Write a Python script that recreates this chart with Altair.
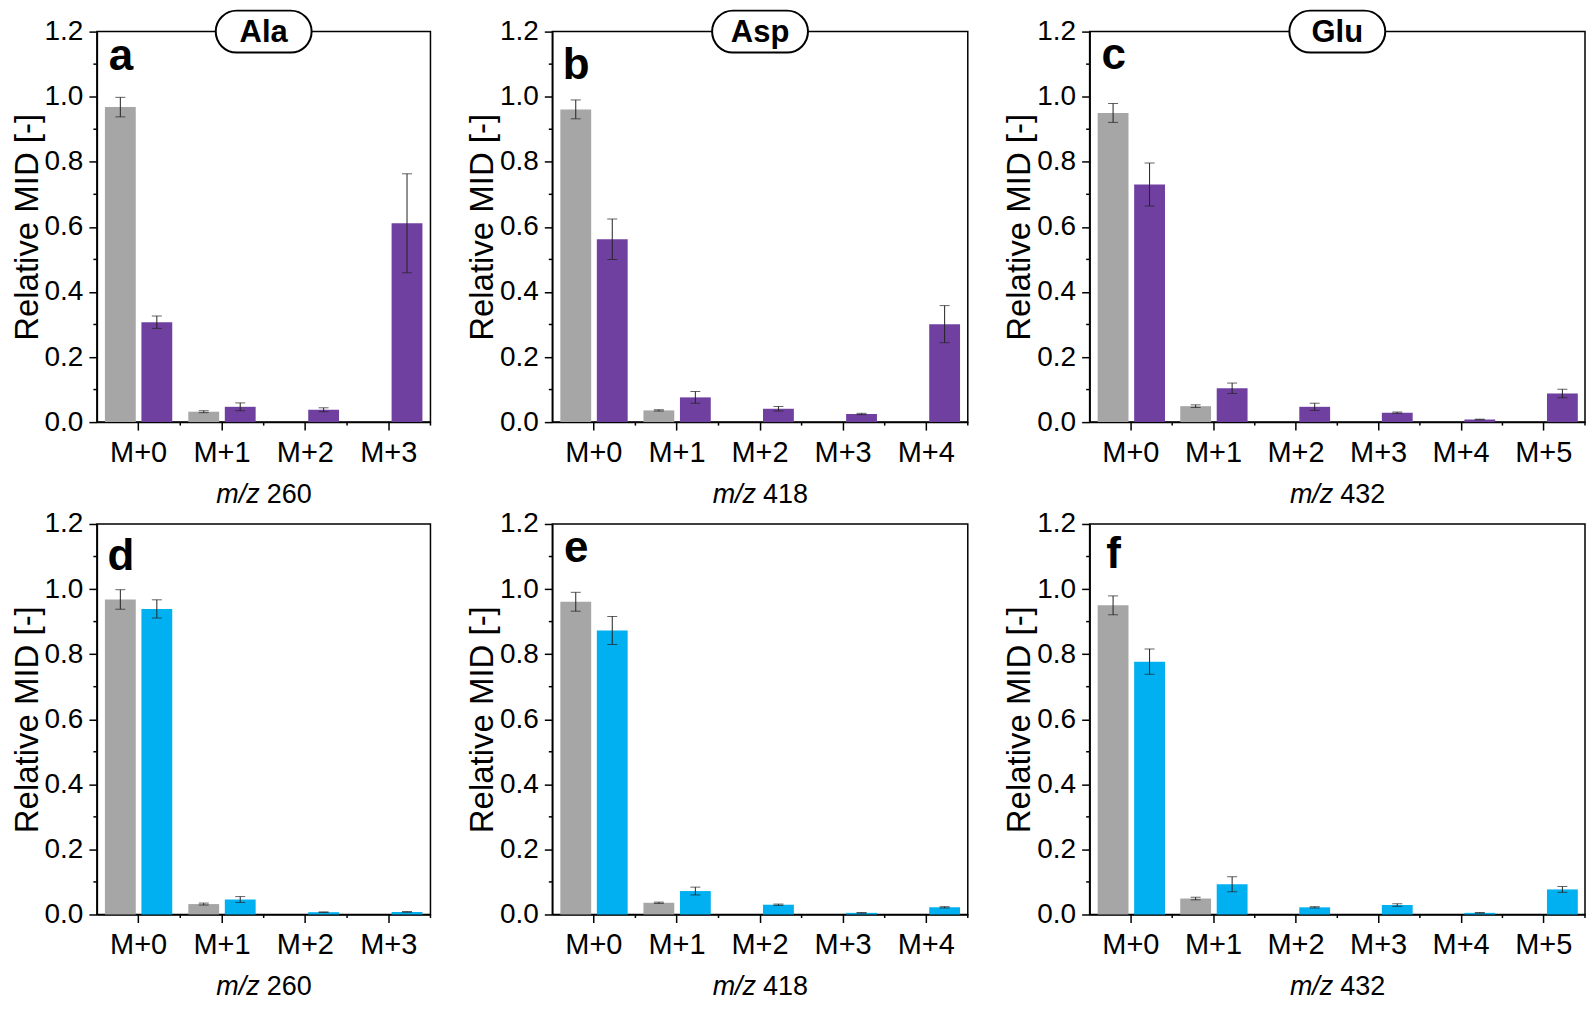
import altair as alt
import pandas as pd

# ---------------- data ----------------
metabolites = ["Ala", "Asp", "Glu"]
mz_values = ["260", "418", "432"]
isotopologues = {
    "Ala": ["M+0", "M+1", "M+2", "M+3"],
    "Asp": ["M+0", "M+1", "M+2", "M+3", "M+4"],
    "Glu": ["M+0", "M+1", "M+2", "M+3", "M+4", "M+5"],
}

# unlabeled reference (grey), only M+0 and M+1 present
ctrl_ala = [0.968, 0.032]
ctrl_ala_sd = [0.030, 0.003]
ctrl_asp = [0.961, 0.036]
ctrl_asp_sd = [0.029, 0.002]
ctrl_glu = [0.950, 0.049]
ctrl_glu_sd = [0.029, 0.004]

# top row tracer (purple)
top_ala = [0.307, 0.047, 0.038, 0.611]
top_ala_sd = [0.019, 0.012, 0.006, 0.152]
top_asp = [0.562, 0.076, 0.041, 0.025, 0.301]
top_asp_sd = [0.062, 0.018, 0.007, 0.002, 0.057]
top_glu = [0.730, 0.104, 0.047, 0.029, 0.008, 0.088]
top_glu_sd = [0.066, 0.016, 0.011, 0.002, 0.001, 0.013]

# bottom row tracer (blue)
bot_ala = [0.939, 0.046, 0.007, 0.008]
bot_ala_sd = [0.028, 0.009, 0.001, 0.001]
bot_asp = [0.873, 0.072, 0.030, 0.005, 0.022]
bot_asp_sd = [0.043, 0.012, 0.002, 0.001, 0.002]
bot_glu = [0.777, 0.093, 0.022, 0.029, 0.005, 0.077]
bot_glu_sd = [0.039, 0.023, 0.002, 0.004, 0.001, 0.009]

y_major = [0.0, 0.2, 0.4, 0.6, 0.8, 1.0, 1.2]
y_minor = [0.1, 0.3, 0.5, 0.7, 0.9, 1.1]
panel_letters = ["a", "b", "c", "d", "e", "f"]

ctrl = {"Ala": (ctrl_ala, ctrl_ala_sd), "Asp": (ctrl_asp, ctrl_asp_sd), "Glu": (ctrl_glu, ctrl_glu_sd)}
top = {"Ala": (top_ala, top_ala_sd), "Asp": (top_asp, top_asp_sd), "Glu": (top_glu, top_glu_sd)}
bot = {"Ala": (bot_ala, bot_ala_sd), "Asp": (bot_asp, bot_asp_sd), "Glu": (bot_glu, bot_glu_sd)}

# ---------------- style ----------------
FONT = "Liberation Sans"
COLORS = {"unlabeled": "#a6a6a6", "tracer_top": "#7040a0", "tracer_bottom": "#00b0f0"}
H = 391
WIDTHS = {"Ala": 334, "Asp": 416, "Glu": 496}
LETTER_BASELINE = {"a": 38, "b": 47, "c": 37, "d": 46, "e": 38, "f": 44}
YTITLE = "Relative MID [-]"


def panel(met, mz, row, letter):
    cats = isotopologues[met]
    w = WIDTHS[met]
    tracer_name = "tracer_top" if row == 0 else "tracer_bottom"
    tr_vals, tr_sd = (top if row == 0 else bot)[met]
    c_vals, c_sd = ctrl[met]
    rows = []
    for i, cat in enumerate(cats):
        if i < len(c_vals):
            rows.append({"cat": cat, "slot": "1", "series": "unlabeled",
                         "v": c_vals[i], "lo": c_vals[i] - c_sd[i], "hi": c_vals[i] + c_sd[i]})
        rows.append({"cat": cat, "slot": "2", "series": tracer_name,
                     "v": tr_vals[i], "lo": tr_vals[i] - tr_sd[i], "hi": tr_vals[i] + tr_sd[i]})
    df = pd.DataFrame(rows)

    xscale = alt.Scale(domain=cats, paddingInner=0, paddingOuter=0)
    yscale = alt.Scale(domain=[0, 1.2], nice=False, zero=True)
    offscale = alt.Scale(domain=["1", "2"], paddingInner=0.155, paddingOuter=0.22)

    base = alt.Chart(df)
    bars = base.mark_bar().encode(
        x=alt.X("cat:N", scale=xscale, sort=cats, title=None,
                axis=alt.Axis(labelAngle=0, labelFontSize=29, labelFont=FONT, labelColor="black",
                              tickSize=8, tickWidth=1.5, tickColor="black", labelPadding=8,
                              domainWidth=1.5, domainColor="black", grid=False, title=None)),
        xOffset=alt.XOffset("slot:N", scale=offscale),
        y=alt.Y("v:Q", scale=yscale, title=YTITLE,
                axis=alt.Axis(values=y_major, format=".1f", labelFontSize=28, labelFont=FONT,
                              labelColor="black", tickSize=8, tickWidth=1.5, tickColor="black",
                              labelPadding=6, domainWidth=1.5, domainColor="black", grid=False,
                              title=YTITLE, titleFontSize=33, titleFont=FONT,
                              titleFontWeight="normal", titleColor="black", titlePadding=0)),
        color=alt.Color("series:N", scale=alt.Scale(domain=list(COLORS.keys()),
                                                    range=list(COLORS.values())), legend=None),
    )
    err = base.mark_rule(color="#222222", strokeWidth=1).encode(
        x=alt.X("cat:N", scale=xscale, sort=cats, title=None),
        xOffset=alt.XOffset("slot:N", scale=offscale),
        y=alt.Y("lo:Q", scale=yscale, title=YTITLE),
        y2="hi:Q",
    )
    cap_hi = base.mark_tick(color="#222222", thickness=1, size=10, orient="horizontal").encode(
        x=alt.X("cat:N", scale=xscale, sort=cats, title=None),
        xOffset=alt.XOffset("slot:N", scale=offscale),
        y=alt.Y("hi:Q", scale=yscale, title=YTITLE),
    )
    cap_lo = base.mark_tick(color="#222222", thickness=1, size=10, orient="horizontal").encode(
        x=alt.X("cat:N", scale=xscale, sort=cats, title=None),
        xOffset=alt.XOffset("slot:N", scale=offscale),
        y=alt.Y("lo:Q", scale=yscale, title=YTITLE),
    )
    yminor = alt.Chart(pd.DataFrame({"v": y_minor})).mark_rule(color="black", strokeWidth=1.5).encode(
        y=alt.Y("v:Q", scale=yscale, title=YTITLE),
        x=alt.value(-3.5), x2=alt.value(0),
    )
    xminor = alt.Chart(pd.DataFrame({"cat": cats})).mark_rule(color="black", strokeWidth=1.5).encode(
        x=alt.X("cat:N", scale=xscale, sort=cats, bandPosition=1, title=None),
        y=alt.value(H), y2=alt.value(H + 3.5),
    )
    letter_txt = alt.Chart(pd.DataFrame({"t": [letter]})).mark_text(
        font=FONT, fontSize=44, fontWeight="bold", align="center", baseline="alphabetic", color="black"
    ).encode(text="t:N", x=alt.value(24), y=alt.value(LETTER_BASELINE[letter]))
    xt1 = alt.Chart(pd.DataFrame({"t": ["m/z"]})).mark_text(
        font=FONT, fontSize=27, fontStyle="italic", align="right", baseline="alphabetic", color="black"
    ).encode(text="t:N", x=alt.value(w / 2 - 4), y=alt.value(H + 81))
    xt2 = alt.Chart(pd.DataFrame({"t": [mz]})).mark_text(
        font=FONT, fontSize=27, align="left", baseline="alphabetic", color="black"
    ).encode(text="t:N", x=alt.value(w / 2 + 3), y=alt.value(H + 81))

    layers = [bars, err, cap_hi, cap_lo, yminor, xminor, letter_txt, xt1, xt2]
    if row == 0:
        badge = alt.Chart(pd.DataFrame({"t": [met]})).mark_rect(
            fill="white", stroke="black", strokeWidth=2, cornerRadius=21
        ).encode(x=alt.value(w / 2 - 48), x2=alt.value(w / 2 + 48), y=alt.value(-21), y2=alt.value(21))
        badge_txt = alt.Chart(pd.DataFrame({"t": [met]})).mark_text(
            font=FONT, fontSize=31, fontWeight="bold", align="center", baseline="middle", color="black"
        ).encode(text="t:N", x=alt.value(w / 2), y=alt.value(1))
        layers += [badge, badge_txt]
    return alt.layer(*layers).properties(width=w, height=H)


panels = []
k = 0
for row in range(2):
    for met, mz in zip(metabolites, mz_values):
        panels.append(panel(met, mz, row, panel_letters[k]))
        k += 1

chart = alt.concat(
    *panels, columns=3, spacing=alt.RowColnumber(row=102, column=122), bounds="flush", align="each"
).properties(
    padding={"left": 2, "top": 0, "right": 0, "bottom": 0}, background="white"
).configure_view(stroke="black", strokeWidth=1.5)

chart.save("out.html", embed_options={"renderer": "svg", "actions": False})
